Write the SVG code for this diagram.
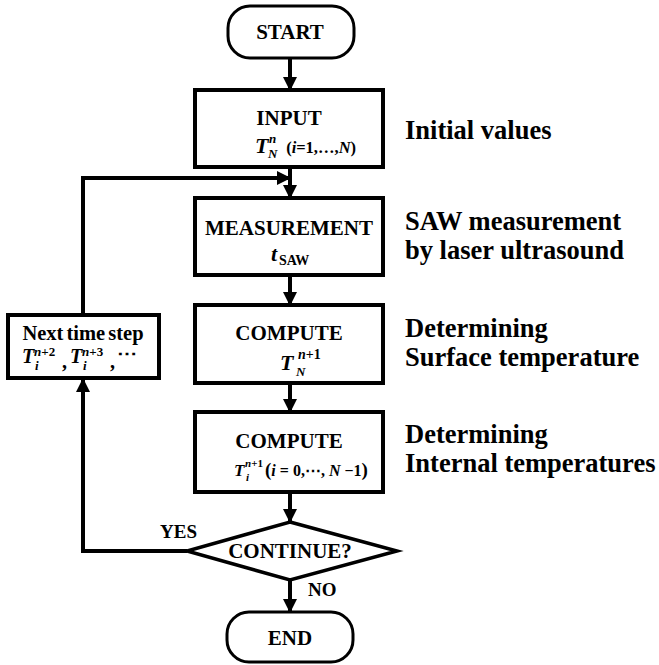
<svg xmlns="http://www.w3.org/2000/svg" width="659" height="665" viewBox="0 0 659 665">
  <style>
    text { font-family: "Liberation Serif", "Times New Roman", serif; font-weight: bold; fill: #000; }
    .box { fill: #fff; stroke: #000; stroke-width: 4; }
    .term { fill: #fff; stroke: #000; stroke-width: 3; }
    .lbl { font-size: 21px; text-anchor: middle; }
    .side { font-size: 26.5px; }
    .it { font-style: italic; }
    .sm { font-size: 13px; }
    .wire { fill: none; stroke: #000; stroke-width: 4; }
  </style>
  <defs>
    <marker id="arrow" markerUnits="userSpaceOnUse" markerWidth="14" markerHeight="14" refX="13" refY="7" orient="auto">
      <path d="M0,0 L14,7 L0,14 Z" fill="#000"/>
    </marker>
  </defs>

  <rect width="659" height="665" fill="#fff"/>

  <!-- connectors -->
  <g id="connectors">
    <line class="wire" x1="290" y1="58" x2="290" y2="90" marker-end="url(#arrow)"/>
    <line class="wire" x1="290" y1="167" x2="290" y2="198" marker-end="url(#arrow)"/>
    <line class="wire" x1="290" y1="275" x2="290" y2="305" marker-end="url(#arrow)"/>
    <line class="wire" x1="290" y1="383" x2="290" y2="412" marker-end="url(#arrow)"/>
    <line class="wire" x1="290" y1="492" x2="290" y2="522" marker-end="url(#arrow)"/>
    <line class="wire" x1="290" y1="580" x2="290" y2="612" marker-end="url(#arrow)"/>
    <!-- YES branch back to the next time step -->
    <polyline class="wire" points="187,551 83,551 83,379" marker-end="url(#arrow)"/>
    <!-- loop back into the measurement step -->
    <polyline class="wire" points="83,315 83,178 290,178" marker-end="url(#arrow)"/>
    <text x="160" y="538" style="font-size:19px">YES</text>
    <text x="308" y="596" style="font-size:19px">NO</text>
  </g>

  <g id="start">
    <rect class="term" x="228" y="6" width="126" height="52" rx="22" ry="22"/>
    <text class="lbl" x="290" y="39">START</text>
  </g>

  <g id="input">
    <rect class="box" x="195" y="90" width="188" height="77"/>
    <text class="lbl" x="289" y="125">INPUT</text>
    <text x="255" y="153" style="font-size:22px"><tspan class="it">T</tspan><tspan class="it sm" x="269" y="143">n</tspan><tspan class="it sm" x="268" y="158">N</tspan><tspan x="282" y="153" style="font-size:16.5px"> (</tspan><tspan class="it" style="font-size:16.5px">i</tspan><tspan style="font-size:16.5px">=1,…,</tspan><tspan class="it" style="font-size:16.5px">N</tspan><tspan style="font-size:16.5px">)</tspan></text>
  </g>

  <g id="measurement">
    <rect class="box" x="195" y="198" width="188" height="77"/>
    <text class="lbl" x="289" y="235">MEASUREMENT</text>
    <text x="271" y="261" style="font-size:22px"><tspan class="it">t</tspan><tspan x="279" y="265" style="font-size:14px">SAW</tspan></text>
  </g>

  <g id="compute-surface">
    <rect class="box" x="195" y="305" width="188" height="78"/>
    <text class="lbl" x="289" y="340">COMPUTE</text>
    <text x="280" y="370" style="font-size:22px"><tspan class="it">T</tspan><tspan x="298" y="359" style="font-size:14px"><tspan class="it">n</tspan>+1</tspan><tspan class="it sm" x="296" y="376">N</tspan></text>
  </g>

  <g id="compute-internal">
    <rect class="box" x="195" y="412" width="188" height="80"/>
    <text class="lbl" x="289" y="448">COMPUTE</text>
    <text x="234" y="476" style="font-size:17px"><tspan class="it">T</tspan><tspan x="245" y="467" style="font-size:11px"><tspan class="it">n</tspan>+1</tspan><tspan class="it" x="246" y="481" style="font-size:11px">i</tspan><tspan x="265" y="476" style="font-size:19px">(</tspan><tspan class="it" style="font-size:16px">i</tspan><tspan style="font-size:16px"> = 0,⋯, </tspan><tspan class="it" style="font-size:16px">N</tspan><tspan style="font-size:16px"> −1</tspan><tspan style="font-size:19px">)</tspan></text>
  </g>

  <g id="decision">
    <polygon class="box" points="290,522 397,551 290,580 187,551" style="stroke-width:3.5"/>
    <text class="lbl" x="290" y="558">CONTINUE?</text>
  </g>

  <g id="end">
    <rect class="term" x="227" y="612" width="126" height="50" rx="22" ry="22"/>
    <text class="lbl" x="290" y="645">END</text>
  </g>

  <g id="next-step">
    <rect class="box" x="8" y="315" width="151" height="63"/>
    <text x="83" y="340" style="font-size:20.5px; text-anchor:middle; word-spacing:-2px">Next time step</text>
    <text x="22" y="363" style="font-size:20px"><tspan class="it">T</tspan><tspan class="sm" x="34" y="356"><tspan class="it">n</tspan>+2</tspan><tspan class="it sm" x="35" y="370">i</tspan><tspan x="62" y="368">,</tspan><tspan class="it" x="70" y="363">T</tspan><tspan class="sm" x="82" y="356"><tspan class="it">n</tspan>+3</tspan><tspan class="it sm" x="83" y="370">i</tspan><tspan x="110" y="368">,</tspan><tspan x="117" y="360">⋯</tspan></text>
  </g>

  <g id="notes">
    <text class="side" x="405" y="139">Initial values</text>
    <text class="side" x="405" y="230">SAW measurement</text>
    <text class="side" x="405" y="259">by laser ultrasound</text>
    <text class="side" x="405" y="337">Determining</text>
    <text class="side" x="405" y="366">Surface temperature</text>
    <text class="side" x="405" y="443">Determining</text>
    <text class="side" x="405" y="472">Internal temperatures</text>
  </g>
</svg>
